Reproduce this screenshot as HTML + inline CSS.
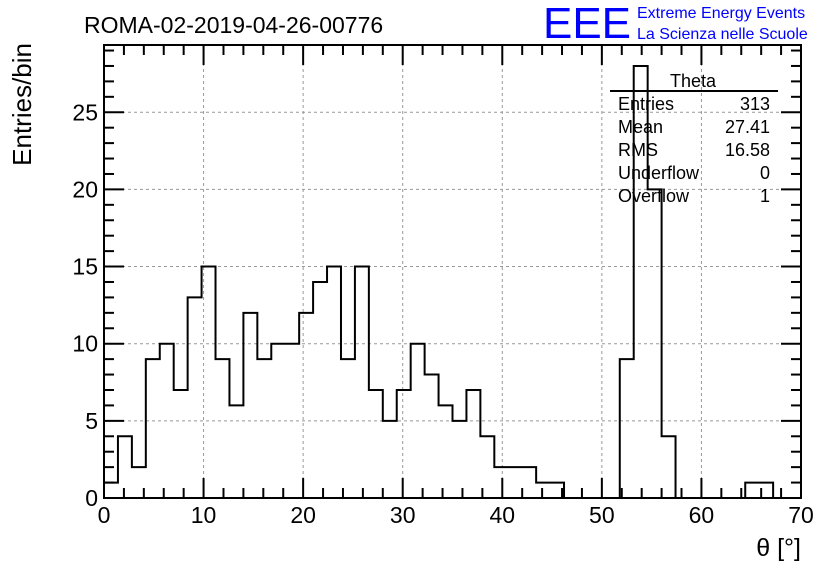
<!DOCTYPE html>
<html><head><meta charset="utf-8"><style>
body{margin:0;background:#fff;width:836px;height:572px;overflow:hidden;font-family:"Liberation Sans",sans-serif}
</style></head><body>
<svg width="836" height="572" style="font-family:'Liberation Sans',sans-serif">
<text x="84" y="33" font-size="23">ROMA-02-2019-04-26-00776</text>
<text x="543" y="38" font-size="44" fill="#0000ff" textLength="88" lengthAdjust="spacingAndGlyphs">EEE</text>
<text x="637" y="18" font-size="16" fill="#0000ff">Extreme Energy Events</text>
<text x="637" y="39" font-size="16" fill="#0000ff">La Scienza nelle Scuole</text>
<g id="grid"></g>
<path id="hist" fill="none" stroke="#000" stroke-width="2"/>
<g id="axes"></g>
<rect x="104" y="45" width="697" height="453" fill="none" stroke="#000" stroke-width="2"/>
<text x="31" y="43" font-size="26" transform="rotate(-90 31 43)" text-anchor="end">Entries/bin</text>
<text x="801" y="556" font-size="25" text-anchor="end">θ [°]</text>
<g font-size="18">
<text x="693" y="87" text-anchor="middle">Theta</text>
<line x1="610" y1="91" x2="778" y2="91" stroke="#000" stroke-width="2"/>
<text x="618" y="110">Entries</text><text x="770" y="110" text-anchor="end">313</text>
<text x="618" y="133">Mean</text><text x="770" y="133" text-anchor="end">27.41</text>
<text x="618" y="156">RMS</text><text x="770" y="156" text-anchor="end">16.58</text>
<text x="618" y="179">Underflow</text><text x="770" y="179" text-anchor="end">0</text>
<text x="618" y="202">Overflow</text><text x="770" y="202" text-anchor="end">1</text>
</g>
</svg>
<script>
const counts=[1,4,2,9,10,7,13,15,9,6,12,9,10,10,12,14,15,9,15,7,5,7,10,8,6,5,7,4,2,2,2,1,1,0,0,0,0,9,28,20,4,0,0,0,0,0,1,1,0,0];
const binWidth=1.4;
const xTicks=[0,10,20,30,40,50,60,70];
const yTicks=[0,5,10,15,20,25];
const X=v=>104+v*(697/70), Y=v=>498-v*15.43;
const ns="http://www.w3.org/2000/svg";
function mk(t,a,p){const e=document.createElementNS(ns,t);for(const k in a)e.setAttribute(k,a[k]);p.appendChild(e);return e;}
const grid=document.getElementById('grid'),axes=document.getElementById('axes');
xTicks.forEach(v=>{if(v>0&&v<70){const l=mk('line',{x1:X(v),x2:X(v),y1:45,y2:498,stroke:'#999','stroke-dasharray':'3,3'},grid);}
const t=mk('text',{x:X(v),y:523,'font-size':23,'text-anchor':'middle'},axes);t.textContent=v;});
yTicks.forEach(v=>{if(v>0){const l=mk('line',{x1:104,x2:801,y1:Y(v),y2:Y(v),stroke:'#999','stroke-dasharray':'3,3'},grid);}
const t=mk('text',{x:98,y:Y(v)+8,'font-size':23,'text-anchor':'end'},axes);t.textContent=v;});
for(let v=0;v<=70;v+=2){const L=v%10==0?20:10;mk('line',{x1:X(v),x2:X(v),y1:498,y2:498-L,stroke:'#000','stroke-width':2},axes);mk('line',{x1:X(v),x2:X(v),y1:45,y2:45+L,stroke:'#000','stroke-width':2},axes);}
for(let v=0;v<=29;v++){const L=v%5==0?20:10;const y=Y(v);if(y<45)break;mk('line',{x1:104,x2:104+L,y1:y,y2:y,stroke:'#000','stroke-width':2},axes);mk('line',{x1:801,x2:801-L,y1:y,y2:y,stroke:'#000','stroke-width':2},axes);}
let d='M'+X(0)+','+Y(0);
counts.forEach((c,i)=>{d+=' L'+X(i*binWidth)+','+Y(c)+' L'+X((i+1)*binWidth)+','+Y(c);});
document.getElementById('hist').setAttribute('d',d);
</script>
</body></html>
